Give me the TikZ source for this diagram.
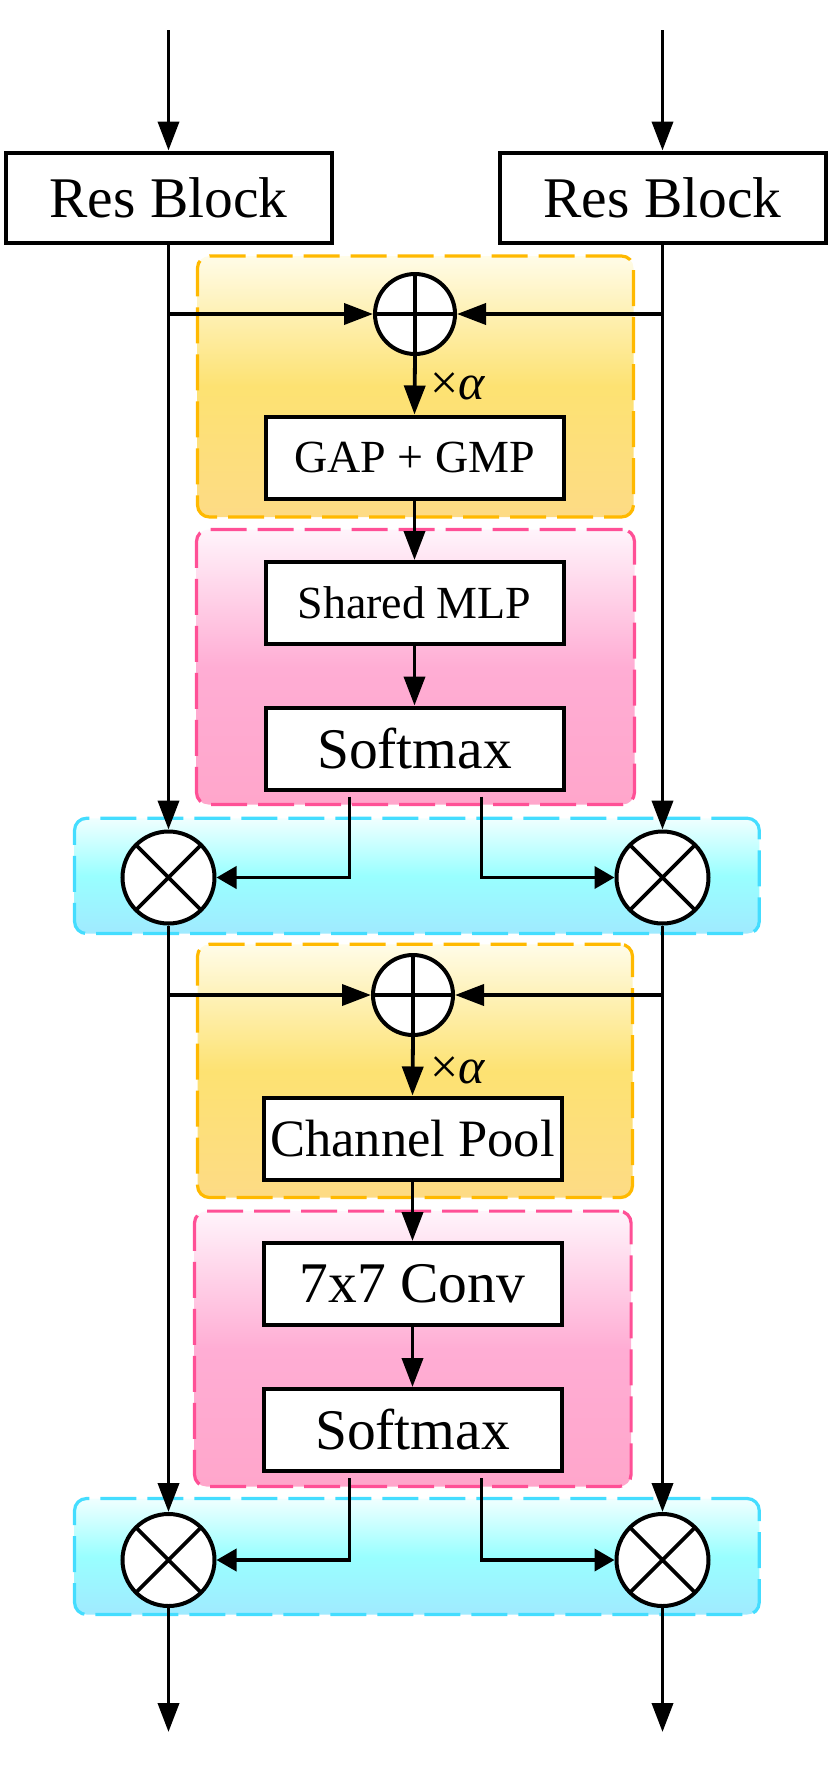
\documentclass[tikz,border=0pt]{standalone}
\usepackage{fontspec}
\setmainfont{Liberation Serif}
\usepackage{tikz}
\usetikzlibrary{arrows.meta, positioning, calc}
\definecolor{goldline}{RGB}{255, 185, 0}
\definecolor{goldtop}{RGB}{255, 252, 232}
\definecolor{goldmid}{RGB}{253, 226, 114}
\definecolor{goldbot}{RGB}{253, 219, 133}
\definecolor{pinkline}{RGB}{255, 80, 150}
\definecolor{pinktop}{RGB}{255, 244, 251}
\definecolor{pinkmid}{RGB}{255, 173, 212}
\definecolor{pinkbot}{RGB}{255, 166, 203}
\definecolor{cyanline}{RGB}{68, 221, 255}
\definecolor{cyantop}{RGB}{240, 255, 255}
\definecolor{cyanmid}{RGB}{153, 255, 255}
\definecolor{cyanbot}{RGB}{160, 234, 255}
\tikzstyle{group} = [rectangle, rounded corners=12pt, line width=3.2pt, dash pattern=on 36pt off 11pt, inner sep=0pt]
\tikzstyle{fusegroup} = [group, draw=goldline, top color=goldtop, bottom color=goldbot, middle color=goldmid]
\tikzstyle{attngroup} = [group, draw=pinkline, top color=pinktop, bottom color=pinkbot, middle color=pinkmid]
\tikzstyle{mulgroup} = [group, draw=cyanline, top color=cyantop, bottom color=cyanbot, middle color=cyanmid]
\tikzstyle{block} = [rectangle, draw, line width=4pt, fill=white, inner sep=0pt, minimum width=298pt, minimum height=82pt, font=\fontsize{57.5}{60}\selectfont]
\tikzstyle{smallblock} = [block, font=\fontsize{46}{50}\selectfont]
\tikzstyle{resblock} = [block, minimum width=326pt, minimum height=90pt]
\tikzstyle{addop} = [circle, draw, line width=4pt, fill=white, inner sep=0pt, minimum size=80pt,
    path picture={\draw[line width=3.6pt] (path picture bounding box.north) -- (path picture bounding box.south)
        (path picture bounding box.west) -- (path picture bounding box.east);}]
\tikzstyle{mulop} = [circle, draw, line width=4pt, fill=white, inner sep=0pt, minimum size=92pt,
    path picture={\draw[line width=3.6pt] (path picture bounding box.north west) -- (path picture bounding box.south east)
        (path picture bounding box.north east) -- (path picture bounding box.south west);}]
\tikzstyle{scalelabel} = [anchor=west, inner sep=0pt, font=\fontsize{50}{52}\selectfont]
\tikzstyle{arrow} = [line width=3.8pt, -{Triangle[length=29pt, width=21pt]}]
\tikzstyle{shortarrow} = [line width=3.8pt, -{Triangle[length=20pt, width=22pt]}]

\begin{document}
\begin{tikzpicture}[x=1pt, y=-1pt]
    \useasboundingbox (0,0) rectangle (830,1765);

    % Coloured groups
    \node[fusegroup, minimum width=436pt, minimum height=261pt] (fuseA) at (415.5,386.5) {};
    \node[attngroup, minimum width=438pt, minimum height=275pt] (attnA) at (415.5,667) {};
    \node[mulgroup, minimum width=684.7pt, minimum height=115.3pt] (mulA) at (416.9,875.9) {};
    \node[fusegroup, minimum width=435pt, minimum height=253.3pt] (fuseB) at (415,1070.9) {};
    \node[attngroup, minimum width=436.6pt, minimum height=275.4pt] (attnB) at (412.8,1348.8) {};
    \node[mulgroup, minimum width=684.7pt, minimum height=116pt] (mulB) at (416.9,1556.5) {};

    % Res blocks
    \coordinate (inL) at (168.5,30);
    \coordinate (inR) at (662.5,30);
    \node[resblock] (resL) at (168.5,197.5) {Res Block};
    \node[resblock] (resR) at (662.5,197.5) {Res Block};

    % Channel attention
    \node[addop] (addA) at (415,314) {};
    \node[smallblock] (gap) at (414.5,457.5) {GAP + GMP};
    \node[smallblock] (mlp) at (414.5,603) {Shared MLP};
    \node[block] (smA) at (414.5,748.5) {Softmax};
    \node[scalelabel] (alphaA) at (430,386) {×\textit{α}};
    \node[mulop] (mulL1) at (168.5,877.5) {};
    \node[mulop] (mulR1) at (662.5,877.5) {};

    % Spatial attention
    \node[addop] (addB) at (413,995) {};
    \node[block, font=\fontsize{52.5}{55}\selectfont] (pool) at (412.5,1138.5) {Channel Pool};
    \node[block] (conv) at (412.5,1284) {7x7 Conv};
    \node[block] (smB) at (412.5,1430) {Softmax};
    \node[scalelabel] (alphaB) at (430,1070) {×\textit{α}};
    \node[mulop] (mulL2) at (168.5,1560) {};
    \node[mulop] (mulR2) at (662.5,1560) {};
    \coordinate (outL) at (168.5,1732);
    \coordinate (outR) at (662.5,1732);

    % Connections
    \draw[arrow] (inL) -- (resL.north);
    \draw[arrow] (inR) -- (resR.north);
    \draw[arrow] (resL.south) -- (mulL1.north);
    \draw[arrow] (resR.south) -- (mulR1.north);
    \draw[arrow] (resL.south |- addA) -- (addA.west);
    \draw[arrow] (resR.south |- addA) -- (addA.east);
    \draw[arrow] (addA.south) -- (gap.north);
    \draw[arrow] (gap.south) -- (mlp.north);
    \draw[arrow] (mlp.south) -- (smA.north);
    \draw[shortarrow] ([xshift=-65pt, yshift=-5pt]smA.south) |- (mulL1.east);
    \draw[shortarrow] ([xshift=67pt, yshift=-5pt]smA.south) |- (mulR1.west);

    \draw[arrow] (mulL1.south) -- (mulL2.north);
    \draw[arrow] (mulR1.south) -- (mulR2.north);
    \draw[arrow] (mulL1.south |- addB) -- (addB.west);
    \draw[arrow] (mulR1.south |- addB) -- (addB.east);
    \draw[arrow] (addB.south) -- (pool.north);
    \draw[arrow] (pool.south) -- (conv.north);
    \draw[arrow] (conv.south) -- (smB.north);
    \draw[shortarrow] ([xshift=-63pt, yshift=-5pt]smB.south) |- (mulL2.east);
    \draw[shortarrow] ([xshift=69pt, yshift=-5pt]smB.south) |- (mulR2.west);
    \draw[arrow] (mulL2.south) -- (outL);
    \draw[arrow] (mulR2.south) -- (outR);
\end{tikzpicture}
\end{document}
